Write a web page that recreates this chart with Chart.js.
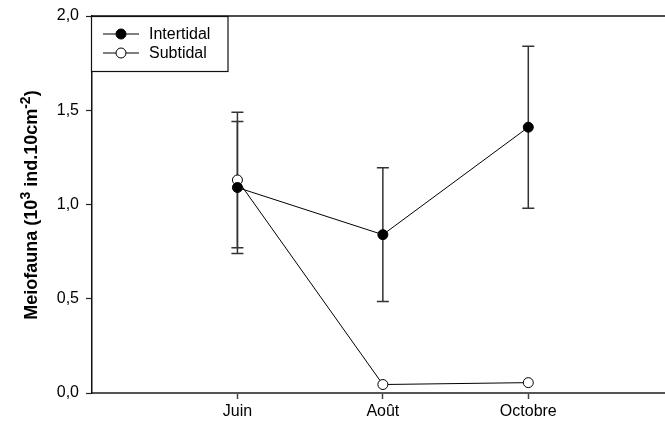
<!DOCTYPE html>
<html>
<head>
<meta charset="utf-8">
<script src="https://cdn.jsdelivr.net/npm/chart.js@4/dist/chart.umd.min.js"></script>
<style>
  html, body { margin: 0; padding: 0; background: #fff; }
  #wrap { width: 665px; height: 423px; }
</style>
</head>
<body>
<div id="wrap"><canvas id="c" width="665" height="423"></canvas></div>
<script>
// Sampling months and their positions on the x axis
const months = ['Juin', 'Août', 'Octobre'];
const monthPos = [1, 2, 3];

// Meiofauna density (10^3 ind.10cm^-2), mean and error half-width
const intertidal = [1.09, 0.84, 1.41];
const intertidalErr = [0.35, 0.355, 0.43];
const subtidal = [1.13, 0.045, 0.055];
const subtidalErr = [0.36, 0, 0];

const yTicks = [0, 0.5, 1.0, 1.5, 2.0];
const seriesNames = ['Intertidal', 'Subtidal'];

const FONT = '"Liberation Sans", Arial, Helvetica, sans-serif';

function points(vals) {
  return monthPos.map((x, i) => ({ x: x, y: vals[i] }));
}

// Vertical error bars with caps, drawn under the markers
const errorBars = {
  id: 'errorBars',
  beforeDatasetsDraw(chart) {
    const { ctx, scales: { x, y } } = chart;
    const sets = [[intertidal, intertidalErr], [subtidal, subtidalErr]];
    ctx.save();
    ctx.strokeStyle = '#333';
    ctx.lineWidth = 1.5;
    sets.forEach(([vals, errs]) => {
      vals.forEach((v, i) => {
        if (!errs[i]) return;
        const px = x.getPixelForValue(monthPos[i]);
        const top = y.getPixelForValue(v + errs[i]);
        const bot = y.getPixelForValue(v - errs[i]);
        ctx.beginPath();
        ctx.moveTo(px, top); ctx.lineTo(px, bot);
        ctx.moveTo(px - 6, top); ctx.lineTo(px + 6, top);
        ctx.moveTo(px - 6, bot); ctx.lineTo(px + 6, bot);
        ctx.stroke();
      });
    });
    ctx.restore();
  }
};

// Top frame line, rotated y title with superscripts, and boxed legend
const decorations = {
  id: 'decorations',
  afterDraw(chart) {
    const { ctx, chartArea: a } = chart;
    ctx.save();
    // top frame
    ctx.strokeStyle = '#111';
    ctx.lineWidth = 1.5;
    ctx.beginPath();
    ctx.moveTo(a.left, a.top);
    ctx.lineTo(chart.width, a.top);
    ctx.stroke();

    // y-axis title
    const parts = [
      ['Meiofauna (10', 18, 0],
      ['3', 14, -7],
      [' ind.10cm', 18, 0],
      ['-2', 14, -7],
      [')', 18, 0]
    ];
    let total = 0;
    parts.forEach(p => { ctx.font = 'bold ' + p[1] + 'px ' + FONT; total += ctx.measureText(p[0]).width; });
    ctx.translate(37, 205);
    ctx.rotate(-Math.PI / 2);
    ctx.fillStyle = '#000';
    ctx.textBaseline = 'alphabetic';
    ctx.textAlign = 'left';
    let cx = -total / 2;
    parts.forEach(p => {
      ctx.font = 'bold ' + p[1] + 'px ' + FONT;
      ctx.fillText(p[0], cx, p[2]);
      cx += ctx.measureText(p[0]).width;
    });
    ctx.restore();

    // legend
    ctx.save();
    ctx.fillStyle = '#fff';
    ctx.fillRect(91.5, 16.5, 136.5, 55);
    ctx.strokeStyle = '#111';
    ctx.lineWidth = 1.2;
    ctx.strokeRect(91.5, 16.5, 136.5, 55);
    const rows = [34, 53];
    const fills = ['#000', '#fff'];
    rows.forEach((ry, i) => {
      ctx.strokeStyle = '#000';
      ctx.lineWidth = 1;
      ctx.beginPath();
      ctx.moveTo(103, ry); ctx.lineTo(139, ry);
      ctx.stroke();
      ctx.beginPath();
      ctx.arc(121, ry, 5, 0, Math.PI * 2);
      ctx.fillStyle = fills[i];
      ctx.fill();
      ctx.stroke();
      ctx.fillStyle = '#000';
      ctx.font = '16px ' + FONT;
      ctx.textBaseline = 'middle';
      ctx.textAlign = 'left';
      ctx.fillText(seriesNames[i], 149, ry + 1);
    });
    ctx.restore();
  }
};

new Chart(document.getElementById('c'), {
  type: 'scatter',
  data: {
    datasets: [
      {
        label: seriesNames[0],
        data: points(intertidal),
        showLine: true,
        borderColor: '#000',
        borderWidth: 1,
        pointRadius: 5,
        pointHoverRadius: 5,
        pointBackgroundColor: '#000',
        pointBorderColor: '#000',
        pointBorderWidth: 1
      },
      {
        label: seriesNames[1],
        data: points(subtidal),
        showLine: true,
        borderColor: '#000',
        borderWidth: 1,
        pointRadius: 5,
        pointHoverRadius: 5,
        pointBackgroundColor: '#fff',
        pointBorderColor: '#000',
        pointBorderWidth: 1
      }
    ]
  },
  options: {
    responsive: false,
    animation: false,
    devicePixelRatio: 1,
    layout: { autoPadding: false, padding: { top: 16, left: 0, right: 0, bottom: 0 } },
    plugins: { legend: { display: false }, tooltip: { enabled: false } },
    scales: {
      x: {
        type: 'linear',
        min: 0,
        max: 3.94,
        afterBuildTicks: s => { s.ticks = monthPos.map(v => ({ value: v })); },
        afterFit: s => { s.height = 30; s.paddingLeft = 0; s.paddingRight = 0; },
        ticks: {
          callback: v => months[monthPos.indexOf(v)],
          font: { family: FONT, size: 16 },
          color: '#000',
          padding: 3,
          maxRotation: 0,
          autoSkip: false
        },
        grid: { drawOnChartArea: false, drawTicks: true, tickLength: 6, tickColor: '#444', tickWidth: 1.5 },
        border: { color: '#555', width: 2 }
      },
      y: {
        min: 0,
        max: 2,
        afterBuildTicks: s => { s.ticks = yTicks.map(v => ({ value: v })); },
        afterFit: s => { s.width = 92; s.paddingTop = 0; s.paddingBottom = 0; },
        ticks: {
          callback: v => v.toFixed(1).replace('.', ','),
          font: { family: FONT, size: 16 },
          color: '#000',
          padding: 7
        },
        grid: { drawOnChartArea: false, drawTicks: true, tickLength: 6, tickColor: '#222', tickWidth: 1.2 },
        border: { color: '#111', width: 1.5 }
      }
    }
  },
  plugins: [errorBars, decorations]
});
</script>
</body>
</html>
